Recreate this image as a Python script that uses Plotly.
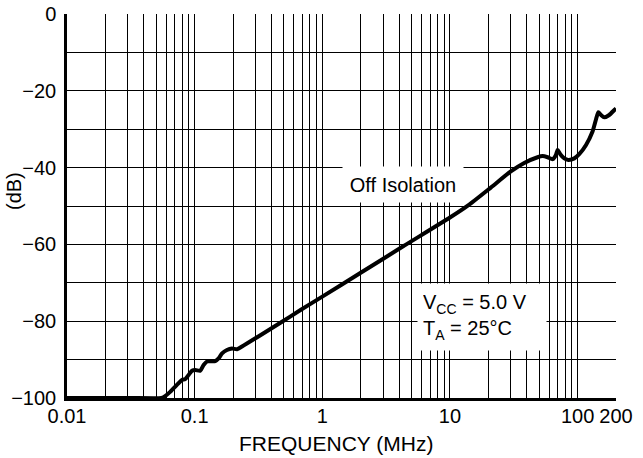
import math
import plotly.graph_objects as go

# ---- data ----
freq_mhz = [0.01, 0.03, 0.055, 0.057, 0.0643, 0.0726, 0.0795, 0.0843, 0.0896, 0.0953,
            0.101, 0.1107, 0.1175, 0.125, 0.145, 0.154, 0.164, 0.179, 0.196, 0.215,
            0.235, 0.47, 0.675, 1.0, 2.0, 4.3, 10.0, 13.8, 20.9, 30.0, 38.2, 48.6, 53.2,
            58.3, 63.8, 67.7, 69.8, 73.2, 78.7, 84.6, 94.3, 103, 116.5, 131, 139,
            145.5, 152.7, 162, 177, 194, 200]
off_isolation_db = [-100, -100, -100, -99.8, -98.4, -96.6, -95.3, -95.1, -94.0, -92.9,
                    -92.7, -92.9, -91.4, -90.5, -90.4, -89.7, -88.4, -87.5, -87.1, -87.3,
                    -86.6, -80.4, -77.1, -73.6, -67.4, -60.5, -53.0, -49.9, -45.2, -41.0, -38.8, -37.3, -37.0,
                    -37.3, -37.8, -36.7, -35.4, -36.5, -37.6, -38.0, -37.6, -36.5, -34.1, -30.6, -27.6,
                    -25.6, -26.3, -26.9, -26.3, -25.0, -24.6]

x_grid_vals = [m * 10 ** k for k in range(-2, 2) for m in range(1, 10)] + [100, 200]
x_labels = {0.01: "0.01", 0.1: "0.1", 1: "1", 10: "10", 100: "100", 200: "200"}
y_grid_vals = list(range(-100, 1, 10))
y_labels = {v: ("0" if v == 0 else "\u2212" + str(-v)) for v in range(-100, 1, 20)}

FONT = "Arial, Liberation Sans, Helvetica, sans-serif"

x_ticktext = []
for v in x_grid_vals:
    lab = ""
    for key, t in x_labels.items():
        if abs(v - key) < 1e-9 * max(1, key):
            lab = t
    x_ticktext.append(lab)
y_ticktext = [y_labels.get(v, "") for v in y_grid_vals]

fig = go.Figure()
fig.add_trace(go.Scatter(
    x=freq_mhz, y=off_isolation_db, mode="lines",
    line=dict(color="black", width=4, shape="spline", smoothing=0.6),
    showlegend=False, hoverinfo="skip",
))

fig.update_layout(
    width=643, height=458,
    margin=dict(l=67, r=27, t=14, b=60),
    paper_bgcolor="white", plot_bgcolor="white",
    font=dict(family=FONT, size=20, color="black"),
    xaxis=dict(
        type="log", range=[math.log10(0.01), math.log10(200)],
        tickvals=x_grid_vals, ticktext=x_ticktext, tickangle=0,
        showgrid=True, gridcolor="black", gridwidth=1,
        showline=True, linecolor="black", linewidth=2.5, mirror=False,
        zeroline=False, ticks="", ticklabelstandoff=-2, automargin=False,
        tickfont=dict(family=FONT, size=20, color="black"),
    ),
    yaxis=dict(
        range=[-100, 0],
        tickvals=y_grid_vals, ticktext=y_ticktext,
        showgrid=True, gridcolor="black", gridwidth=1,
        showline=True, linecolor="black", linewidth=2.5, mirror=False,
        zeroline=False, ticks="", ticklabelstandoff=4, automargin=False,
        tickfont=dict(family=FONT, size=20, color="black"),
    ),
)

annotations = [
    dict(text="Off Isolation", xref="x", yref="y",
         x=math.log10(4.27), y=-44.5, showarrow=False,
         bgcolor="white", width=112, height=27, borderpad=4,
         font=dict(family=FONT, size=20, color="black")),
    dict(text="V<sub>CC</sub> = 5.0 V<br>T<sub>A</sub> = 25°C", xref="x", yref="y",
         x=1.2496, y=-78.9, showarrow=False, align="left",
         bgcolor="white", width=118, height=56, borderpad=5,
         font=dict(family=FONT, size=20, color="black")),
    dict(text="FREQUENCY (MHz)", xref="paper", yref="paper",
         x=0.49, y=0, yshift=-45, yanchor="middle", xanchor="center", showarrow=False,
         font=dict(family=FONT, size=21, color="black")),
    dict(text="(dB)", xref="paper", yref="paper",
         x=0, xshift=-53, y=0.5, yshift=15, textangle=-90,
         xanchor="center", yanchor="middle", showarrow=False,
         font=dict(family=FONT, size=20, color="black")),
]
fig.update_layout(annotations=annotations)

fig.write_html("out.html")
